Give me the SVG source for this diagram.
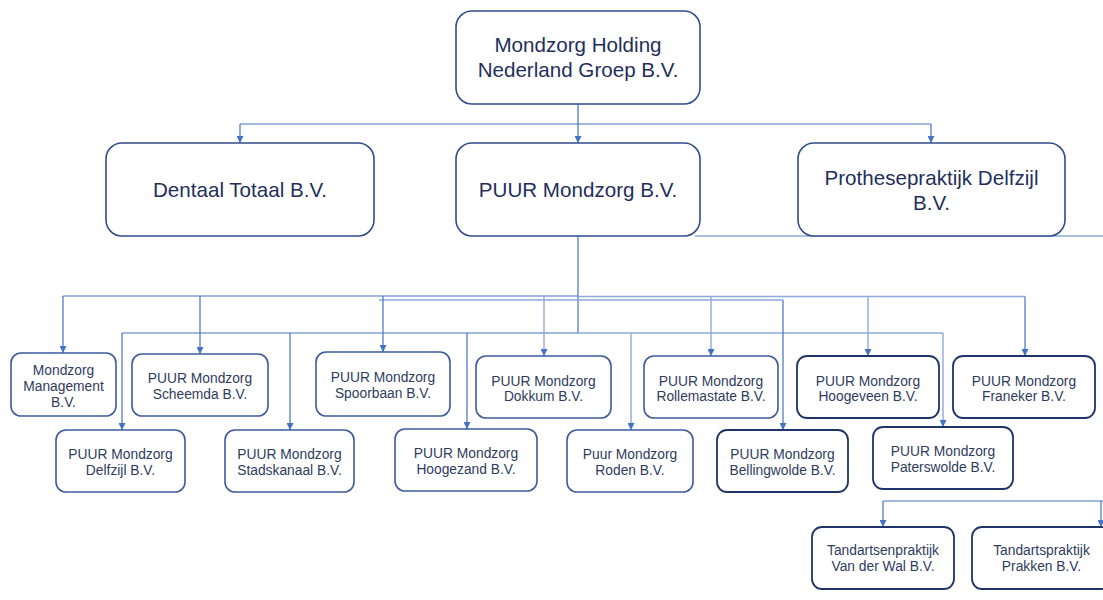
<svg xmlns="http://www.w3.org/2000/svg" width="1103" height="600" viewBox="0 0 1103 600">
<style>
.top{fill:#fff;stroke:#304c8c;stroke-width:1.6}
.sm{fill:#fff;stroke:#3d5b9e;stroke-width:1.6}
.dk{fill:#fff;stroke:#1f3468;stroke-width:1.8}
.tt{font-family:"Liberation Sans",Arial,sans-serif;font-size:20.6px;fill:#1f2f5c;text-anchor:middle}
.ts{font-family:"Liberation Sans",Arial,sans-serif;font-size:13.8px;fill:#2f3c5e;text-anchor:middle}
.c{fill:none;stroke:#4472c4;stroke-width:1.2}
.cl{fill:none;stroke:#8eaadb;stroke-width:1.4}
</style>
<defs>
<marker id="ar" viewBox="0 0 10 10" refX="10" refY="5" markerWidth="7" markerHeight="7" markerUnits="userSpaceOnUse" orient="auto">
<path d="M0,0 L10,5 L0,10 z" fill="#4472c4"/>
</marker>
</defs>
<g id="connectors">
<path class="c" d="M578,104 V124 M240,124 H931"/>
<path class="c" d="M578,124 V143" marker-end="url(#ar)"/>
<path class="c" d="M240,124 V143" marker-end="url(#ar)"/>
<path class="c" d="M931,124 V143" marker-end="url(#ar)"/>
<path class="c" d="M578,236 V333"/>
<path class="cl" d="M695,236 H1103"/>
<path class="c" d="M63,296 H578"/>
<path class="cl" d="M578,296.5 H1025"/>
<path class="cl" d="M379,300 H783"/>
<path class="c" d="M122,333 H578"/>
<path class="cl" d="M578,333 H943"/>
<path class="c" d="M63,296 V353" marker-end="url(#ar)"/>
<path class="c" d="M200,296 V354" marker-end="url(#ar)"/>
<path class="c" d="M383,296 V352" marker-end="url(#ar)"/>
<path class="cl" d="M544,296 V356" marker-end="url(#ar)"/>
<path class="cl" d="M711,296.5 V356" marker-end="url(#ar)"/>
<path class="cl" d="M868,296.5 V356" marker-end="url(#ar)"/>
<path class="c" d="M1025,296.5 V356" marker-end="url(#ar)"/>
<path class="c" d="M122,333 V430" marker-end="url(#ar)"/>
<path class="c" d="M290,333 V430" marker-end="url(#ar)"/>
<path class="c" d="M467,333 V429" marker-end="url(#ar)"/>
<path class="cl" d="M631,333 V430" marker-end="url(#ar)"/>
<path class="c" d="M783,300 V430" marker-end="url(#ar)"/>
<path class="cl" d="M943,333 V427" marker-end="url(#ar)"/>
<path class="c" d="M883,501 H1103"/>
<path class="c" d="M883,501 V527" marker-end="url(#ar)"/>
<path class="c" d="M1101,501 V527" marker-end="url(#ar)"/>
</g>
<g id="holding"><rect class="top" x="456" y="11" width="244" height="93" rx="16"/><text class="tt" x="578" y="52">Mondzorg Holding</text><text class="tt" x="578" y="77">Nederland Groep B.V.</text></g>
<g id="dentaal"><rect class="top" x="106" y="143" width="268" height="93" rx="16"/><text class="tt" x="240" y="197">Dentaal Totaal B.V.</text></g>
<g id="puur"><rect class="top" x="456" y="143" width="244" height="93" rx="16"/><text class="tt" x="578" y="197">PUUR Mondzorg B.V.</text></g>
<g id="prothese"><rect class="top" x="798" y="143" width="267" height="93" rx="16"/><text class="tt" x="931.5" y="185">Prothesepraktijk Delfzijl</text><text class="tt" x="931.5" y="210">B.V.</text></g>
<g id="management"><rect class="sm" x="11" y="353" width="105" height="63" rx="10"/><text class="ts" x="63.5" y="375">Mondzorg</text><text class="ts" x="63.5" y="391">Management</text><text class="ts" x="63.5" y="407">B.V.</text></g>
<g id="scheemda"><rect class="sm" x="132" y="354" width="136" height="62" rx="10"/><text class="ts" x="200" y="383">PUUR Mondzorg</text><text class="ts" x="200" y="398.5">Scheemda B.V.</text></g>
<g id="spoorbaan"><rect class="sm" x="316" y="352" width="134" height="64" rx="10"/><text class="ts" x="383" y="382">PUUR Mondzorg</text><text class="ts" x="383" y="397.5">Spoorbaan B.V.</text></g>
<g id="dokkum"><rect class="sm" x="476" y="356" width="135" height="62" rx="10"/><text class="ts" x="543.5" y="385.5">PUUR Mondzorg</text><text class="ts" x="543.5" y="401">Dokkum B.V.</text></g>
<g id="rollemastate"><rect class="sm" x="644" y="356" width="134" height="62" rx="10"/><text class="ts" x="711" y="385.5">PUUR Mondzorg</text><text class="ts" x="711" y="401">Rollemastate B.V.</text></g>
<g id="hoogeveen"><rect class="dk" x="797" y="356" width="142" height="62" rx="10"/><text class="ts" x="868" y="385.5">PUUR Mondzorg</text><text class="ts" x="868" y="401">Hoogeveen B.V.</text></g>
<g id="franeker"><rect class="dk" x="953" y="356" width="142" height="62" rx="10"/><text class="ts" x="1024" y="385.5">PUUR Mondzorg</text><text class="ts" x="1024" y="401">Franeker B.V.</text></g>
<g id="delfzijl"><rect class="sm" x="56" y="430" width="129" height="62" rx="10"/><text class="ts" x="120.5" y="459">PUUR Mondzorg</text><text class="ts" x="120.5" y="474.5">Delfzijl B.V.</text></g>
<g id="stadskanaal"><rect class="sm" x="225" y="430" width="129" height="62" rx="10"/><text class="ts" x="289.5" y="459">PUUR Mondzorg</text><text class="ts" x="289.5" y="474.5">Stadskanaal B.V.</text></g>
<g id="hoogezand"><rect class="sm" x="395" y="429" width="142" height="62" rx="10"/><text class="ts" x="466" y="458">PUUR Mondzorg</text><text class="ts" x="466" y="473.5">Hoogezand B.V.</text></g>
<g id="roden"><rect class="sm" x="567" y="430" width="126" height="62" rx="10"/><text class="ts" x="630" y="459">Puur Mondzorg</text><text class="ts" x="630" y="474.5">Roden B.V.</text></g>
<g id="bellingwolde"><rect class="dk" x="717" y="430" width="131" height="62" rx="10"/><text class="ts" x="782.5" y="459">PUUR Mondzorg</text><text class="ts" x="782.5" y="474.5">Bellingwolde B.V.</text></g>
<g id="paterswolde"><rect class="dk" x="873" y="427" width="140" height="62" rx="10"/><text class="ts" x="943" y="456">PUUR Mondzorg</text><text class="ts" x="943" y="471.5">Paterswolde B.V.</text></g>
<g id="vanderwal"><rect class="dk" x="812" y="527" width="142" height="62" rx="10"/><text class="ts" x="883" y="555">Tandartsenpraktijk</text><text class="ts" x="883" y="570.5">Van der Wal B.V.</text></g>
<g id="prakken"><rect class="dk" x="972" y="527" width="139" height="62" rx="10"/><text class="ts" x="1041.5" y="555">Tandartspraktijk</text><text class="ts" x="1041.5" y="570.5">Prakken B.V.</text></g>
</svg>
